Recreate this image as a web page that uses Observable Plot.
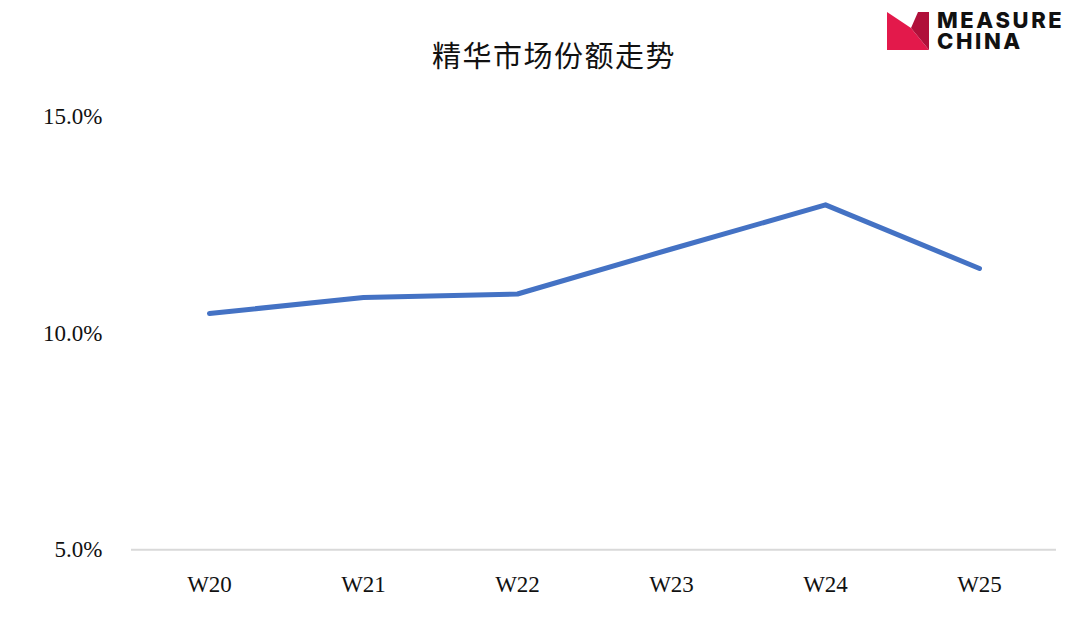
<!DOCTYPE html>
<html>
<head>
<meta charset="utf-8">
<script src="https://cdn.jsdelivr.net/npm/d3@7"></script>
<script src="https://cdn.jsdelivr.net/npm/@observablehq/plot@0.6"></script>
<style>
  html, body { margin: 0; padding: 0; background: #fff; }
  #page { width: 1080px; height: 644px; position: relative; overflow: hidden; }
  #header { position: relative; height: 90px; }
  #title {
    position: absolute; left: 0; width: 1108px; top: 36px; text-align: center;
    font-family: "Noto Sans CJK SC", sans-serif; font-size: 29px; font-weight: 400; letter-spacing: 1.5px;
    color: #111; line-height: 36px;
  }
  #logo { position: absolute; left: 887px; top: 12px; }
  .logo-text {
    position: absolute; left: 937px;
    font-family: Inter, "Open Sans", sans-serif; font-weight: 800; font-size: 22px;
    letter-spacing: 2.6px; line-height: 20px; height: 20px; color: #111; white-space: nowrap;
  }
</style>
</head>
<body>
<div id="page">
  <div id="header">
    <div id="title">精华市场份额走势</div>
    <svg id="logo" width="42" height="38" viewBox="0 0 42 38">
      <polygon points="0,0 24,16 42,38 0,38" fill="#e3194b"/>
      <polygon points="31,0 42,0 42,38 24,16" fill="#b0103a"/>
    </svg>
    <div class="logo-text" style="top:9.5px">MEASURE</div>
    <div class="logo-text" style="top:30.5px">CHINA</div>
  </div>
  <div id="chart"></div>
</div>
<script>
// Weekly share of the serum segment (%)
const weeks = ["W20", "W21", "W22", "W23", "W24", "W25"];
const share = [10.46, 10.83, 10.91, 11.95, 12.97, 11.50];
const yTicks = [5, 10, 15];

const data = weeks.map((week, i) => ({week, share: share[i]}));

const chart = Plot.plot({
  width: 1080,
  height: 554,
  marginTop: 26.5,
  marginBottom: 94.7,
  marginLeft: 131,
  marginRight: 24,
  style: {fontFamily: "'Liberation Serif', serif", fontSize: "23px", color: "#111", background: "#fff"},
  x: {type: "point", domain: weeks, padding: 0.5, label: null, tickSize: 0, tickPadding: 26},
  y: {domain: [5, 15], ticks: yTicks, tickFormat: d => d.toFixed(1) + "%", label: null, tickSize: 0, tickPadding: 29},
  marks: [
    Plot.ruleY([5], {stroke: "#d9d9d9", strokeWidth: 2}),
    Plot.lineY(data, {x: "week", y: "share", stroke: "#4472c4", strokeWidth: 5, strokeLinecap: "round", strokeLinejoin: "round"})
  ]
});
document.getElementById("chart").appendChild(chart);
</script>
</body>
</html>
